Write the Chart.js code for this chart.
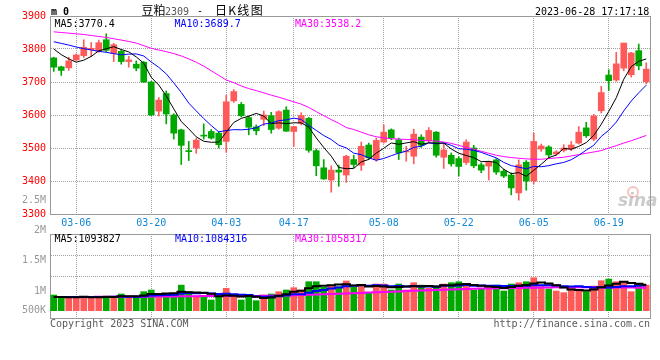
<!DOCTYPE html>
<html><head><meta charset="utf-8">
<script src="https://cdn.jsdelivr.net/npm/chart.js@4.4.0/dist/chart.umd.min.js"></script>
<style>
html,body{margin:0;padding:0;background:#fff;}
#wrap{position:relative;width:660px;height:360px;overflow:hidden;background:#fff;}
canvas{position:absolute;}
.t{position:absolute;white-space:pre;font-family:'DejaVu Sans Mono',monospace;font-size:10px;line-height:10px;color:#000;}
.cjk{position:absolute;white-space:pre;font-family:'Noto Sans CJK SC',sans-serif;font-size:12px;line-height:12px;color:#000;}
</style></head><body>
<div id="wrap">
<canvas id="cMain" width="660" height="232" style="left:0;top:0;"></canvas>
<canvas id="cVol" width="660" height="90" style="left:0;top:232px;"></canvas>
<canvas id="cVolAxis" width="60" height="140" style="left:0;top:190px;"></canvas>

<div class="t" style="left:51px;top:7px;font-weight:bold;">m 0</div>
<div class="cjk" style="left:141.5px;top:4px;">豆粕</div>
<div class="t" style="left:165px;top:6.5px;color:#555;">2309</div>
<div class="t" style="left:197px;top:6px;">-</div>
<div class="cjk" style="left:215px;top:4px;letter-spacing:1.3px;">日K线图</div>
<div class="t" style="left:535px;top:7px;">2023-06-28 17:17:18</div>

<div class="t" style="left:54.5px;top:19.2px;color:#000;">MA5:3770.4</div>
<div class="t" style="left:174.5px;top:19.2px;color:#0000ff;">MA10:3689.7</div>
<div class="t" style="left:295px;top:19.2px;color:#ff00ff;">MA30:3538.2</div>

<div class="t" style="left:54.5px;top:233.5px;color:#000;">MA5:1093827</div>
<div class="t" style="left:175px;top:233.5px;color:#0000ff;">MA10:1084316</div>
<div class="t" style="left:295px;top:233.5px;color:#ff00ff;">MA30:1058317</div>

<div class="t" style="left:50px;top:319.2px;color:#5a5a5a;">Copyright 2023 SINA.COM</div>
<div class="t" style="left:493.5px;top:319.2px;color:#5a5a5a;">http://finance.sina.com.cn</div>

<div style="position:absolute;left:627px;top:186px;width:8px;height:8px;border:2px solid rgba(240,120,120,0.45);border-radius:50%;"></div>
<div style="position:absolute;left:618px;top:192px;font-family:'DejaVu Sans',sans-serif;font-weight:bold;font-style:italic;font-size:17px;line-height:17px;color:rgba(160,160,160,0.55);">sina</div>
</div>

<script>
// ---------- data ----------
const dates = [
 '03-01','03-02','03-03','03-06','03-07','03-08','03-09','03-10','03-13','03-14',
 '03-15','03-16','03-17','03-20','03-21','03-22','03-23','03-24','03-27','03-28',
 '03-29','03-30','03-31','04-03','04-04','04-06','04-07','04-10','04-11','04-12',
 '04-13','04-14','04-17','04-18','04-19','04-20','04-21','04-24','04-25','04-26',
 '04-27','04-28','05-04','05-05','05-08','05-09','05-10','05-11','05-12','05-15',
 '05-16','05-17','05-18','05-19','05-22','05-23','05-24','05-25','05-26','05-29',
 '05-30','05-31','06-01','06-02','06-05','06-06','06-07','06-08','06-09','06-12',
 '06-13','06-14','06-15','06-16','06-19','06-20','06-21','06-26','06-27','06-28'];
const tickDates = ['03-06','03-20','04-03','04-17','05-08','05-22','06-05','06-19'];

const opens = [
 3773,3746,3743,3767,3780,3798,3793,3828,3787,3793,
 3762,3754,3760,3700,3612,3665,3600,3555,3492,3500,
 3539,3550,3545,3520,3643,3632,3592,3564,3587,3598,
 3560,3615,3550,3575,3590,3492,3440,3403,3433,3418,
 3465,3448,3509,3465,3518,3555,3525,3488,3475,3533,
 3522,3548,3472,3478,3468,3456,3500,3449,3445,3464,
 3430,3418,3364,3457,3400,3497,3503,3482,3493,3497,
 3515,3561,3527,3613,3721,3706,3742,3722,3795,3701];
const highs = [
 3775,3748,3775,3785,3828,3820,3827,3846,3817,3798,
 3778,3764,3762,3702,3653,3673,3604,3557,3520,3530,
 3573,3556,3550,3660,3677,3638,3597,3570,3612,3608,
 3613,3625,3566,3607,3593,3497,3465,3446,3448,3478,
 3478,3518,3515,3530,3570,3558,3530,3505,3557,3540,
 3562,3550,3514,3485,3474,3525,3508,3455,3460,3468,
 3436,3425,3464,3462,3545,3512,3507,3492,3510,3520,
 3565,3578,3602,3687,3737,3790,3818,3790,3815,3758];
const lows = [
 3732,3720,3735,3764,3774,3777,3790,3792,3762,3754,
 3745,3734,3698,3598,3597,3573,3527,3450,3462,3484,
 3527,3527,3500,3487,3638,3594,3540,3540,3568,3545,
 3557,3550,3505,3570,3487,3416,3405,3366,3384,3396,
 3440,3432,3465,3460,3515,3525,3465,3460,3452,3502,
 3518,3472,3438,3445,3415,3450,3440,3425,3403,3420,
 3410,3358,3342,3372,3391,3490,3470,3478,3488,3492,
 3512,3532,3522,3606,3674,3702,3734,3715,3737,3694];
const closes = [
 3745,3735,3764,3782,3805,3802,3819,3796,3813,3762,
 3767,3742,3700,3600,3645,3603,3545,3508,3489,3524,
 3536,3530,3510,3640,3671,3598,3563,3552,3600,3556,
 3610,3551,3565,3598,3493,3446,3406,3433,3427,3475,
 3450,3505,3470,3523,3548,3530,3485,3491,3542,3508,
 3553,3478,3494,3452,3444,3518,3446,3433,3457,3427,
 3415,3379,3449,3400,3520,3506,3479,3488,3500,3509,
 3548,3537,3597,3668,3704,3755,3818,3788,3749,3739];

const ma5 = [
 3800,3783,3770,3760,3766.2,3777.6,3794.4,3800.8,3807.0,3798.4,
 3791.4,3776.0,3756.8,3714.2,3690.8,3658.0,3618.6,3580.2,3558.0,3533.8,
 3520.4,3517.4,3517.8,3548.0,3577.4,3589.8,3596.4,3604.8,3596.8,3573.8,
 3576.2,3573.8,3576.4,3576.0,3563.4,3530.6,3501.6,3475.2,3441.0,3437.4,
 3438.2,3458.0,3465.4,3484.6,3499.2,3515.2,3511.2,3515.4,3519.2,3511.2,
 3515.8,3514.4,3515.0,3497.0,3484.2,3477.2,3470.8,3458.6,3459.6,3456.2,
 3435.6,3422.2,3425.4,3414.0,3432.6,3450.8,3470.8,3478.6,3498.6,3496.4,
 3504.8,3516.4,3538.2,3571.8,3610.8,3652.2,3708.4,3746.6,3762.8,3769.8];
const ma10 = [
 3822,3817,3812,3806,3801,3797,3793,3790,3786,3782.3,
 3784.5,3785.2,3778.8,3760.6,3744.6,3724.7,3697.3,3668.5,3636.1,3612.3,
 3589.2,3568.0,3549.0,3553.0,3555.6,3555.1,3556.9,3561.3,3572.4,3575.6,
 3583.0,3585.1,3590.6,3586.4,3568.6,3553.4,3537.7,3525.8,3508.5,3500.4,
 3484.4,3479.8,3470.3,3462.8,3468.3,3476.7,3484.6,3490.4,3501.9,3505.2,
 3515.5,3512.8,3515.2,3508.1,3497.7,3496.5,3492.6,3486.8,3478.3,3470.2,
 3456.4,3446.5,3442.0,3436.8,3444.4,3443.2,3446.5,3452.0,3456.3,3464.5,
 3477.8,3493.6,3508.4,3535.2,3553.6,3578.5,3612.4,3642.4,3667.3,3690.3];
const ma30 = [
 3852,3850,3848,3846,3844,3841,3838,3835,3831,3827,
 3823,3818,3810,3802,3797,3792,3786,3779,3770,3760,
 3748,3734,3720,3706,3698,3688,3680,3674,3667,3660,
 3654,3647,3640,3633,3623,3610,3598,3586,3575,3562,
 3556,3548,3540,3534,3531,3528,3527,3526,3525,3523,
 3522,3521,3518,3514,3508,3502,3496,3490,3484,3478,
 3474,3471,3469,3467,3466,3466,3468,3470,3472,3476,
 3480,3484,3488,3492,3500,3507,3515,3522,3530,3538];

const volumes = [
 937000,900000,900000,900000,900000,900000,900000,921000,900000,954000,
 900000,910000,992000,1020000,954000,937000,937000,1100000,992000,921000,
 921000,855000,900000,1048000,900000,855000,900000,844000,937000,954000,
 992000,1020000,1058000,1020000,1156000,1156000,1064000,1100000,1074000,1168000,
 1064000,1100000,976000,1118000,1118000,1020000,1118000,1020000,1140000,1100000,
 1048000,1085000,1118000,1140000,1156000,1085000,1020000,1048000,1085000,1100000,
 1003000,1118000,1140000,1156000,1222000,1074000,1036000,1003000,976000,1060000,
 1020000,992000,1085000,1173000,1200000,1156000,1156000,992000,1118000,1100000];
const volMa5 = [
 905000,903000,900000,900000,907400,900000,900000,904200,904200,915000,
 915000,917000,931200,955200,955200,962600,968000,989600,984000,977400,
 974200,957800,917800,929000,924800,911600,920600,909400,887200,898000,
 925400,949400,992200,1008800,1049200,1082000,1090800,1099200,1110000,1112400,
 1094000,1101200,1076400,1085200,1075200,1066400,1070000,1078800,1083200,1079600,
 1085200,1078600,1098200,1098200,1109400,1116800,1103800,1089800,1078800,1067600,
 1051200,1070800,1089200,1103400,1127800,1142000,1125600,1098200,1062200,1029800,
 1019000,1010200,1026600,1066000,1094000,1121200,1154000,1135400,1124400,1104400];
const volMa10 = [
 905000,904000,903000,903000,903000,904000,905000,906000,908000,911200,
 907500,908500,917700,929700,935100,938800,942500,960400,969600,966300,
 968400,962900,953700,956500,951100,942900,939200,913600,908100,911400,
 918500,935000,950800,948000,973600,1003700,1020100,1045700,1059400,1080800,
 1088000,1096000,1087800,1097600,1093800,1080200,1085600,1077600,1084200,1077400,
 1075800,1074300,1088500,1090700,1094500,1101000,1091200,1094000,1088500,1088500,
 1084000,1087300,1089500,1091100,1097700,1096600,1098200,1093700,1082800,1078800,
 1080500,1067900,1062400,1064100,1061900,1070100,1082100,1081000,1095200,1099200];
const volMa30 = [
 905000,905000,905000,906000,906000,906000,907000,907000,908000,908000,
 909000,909000,910000,911000,912000,913000,914000,916000,917000,918000,
 919000,920000,920000,921000,921000,922000,922000,923000,924000,926000,
 928000,930000,933000,936000,940000,944000,948000,952000,957000,962000,
 967000,972000,977000,982000,987000,992000,997000,1002000,1007000,1012000,
 1016000,1020000,1024000,1028000,1032000,1036000,1040000,1043000,1046000,1048000,
 1050000,1052000,1054000,1056000,1058000,1060000,1062000,1063000,1064000,1064000,
 1064000,1064000,1063000,1062000,1061000,1060000,1060000,1059000,1058000,1058000];

const priceMin = 3300, priceMax = 3900, priceStep = 100;
const volTickValues = [2500000, 2000000, 1500000, 1000000, 680000];
const volTickLabels = ['2.5M', '2M', '1.5M', '1M', '500K'];

// ---------- scale settings (layout, not data) ----------
const volAxisMin = 559000, volAxisMax = 1941000, volBase = 680000;

const RED = '#ff5a5a', GREEN = '#00a800';
const GRID = '#a0a0a0', BORDER = '#999999';
const FONT = {family: "'DejaVu Sans Mono', monospace", size: 10};
const candleColors = closes.map((c, i) => c >= opens[i] ? RED : GREEN);
const tickIdx = tickDates.map(d => dates.indexOf(d));
const xMin = -0.5, xMax = dates.length - 0.5;
const pts = arr => arr.map((v, i) => ({x: i, y: v}));

function dateAxis(showLabels, height) {
  return {
    type: 'linear', position: 'bottom', min: xMin, max: xMax,
    offset: false,
    afterBuildTicks: s => { s.ticks = tickIdx.map(v => ({value: v})); },
    ticks: {display: showLabels, autoSkip: false, maxRotation: 0, color: '#1088d8', font: FONT, padding: 3,
            callback: v => dates[v]},
    grid: {color: GRID, drawTicks: false, offset: false},
    border: {display: true, color: BORDER, dash: [1, 1]},
    afterFit: s => { s.height = height; }
  };
}
function edgeAxis(position, min, max) {
  const horiz = position === 'top';
  return {
    type: 'linear', position, min, max, offset: false,
    ticks: {display: false}, grid: {display: false, drawTicks: false, offset: false},
    border: {display: true, color: BORDER},
    afterFit: s => { if (horiz) s.height = 0; else s.width = 0; }
  };
}
function lineDs(data, color, width, stepped) {
  return {type: 'line', data: pts(data), borderColor: color, borderWidth: width, pointRadius: 0,
          tension: 0, stepped: stepped || false, order: 0, xAxisID: 'x', yAxisID: 'y'};
}
const common = {responsive: false, animation: false, events: [],
  plugins: {legend: {display: false}, tooltip: {enabled: false}}};

// ---------- main candlestick chart ----------
new Chart(document.getElementById('cMain'), {
  type: 'bar',
  data: {datasets: [
    lineDs(ma5, '#000000', 1),
    lineDs(ma10, '#0000ff', 1),
    lineDs(ma30, '#ff00ff', 1),
    {type: 'bar', data: opens.map((o, i) => ({x: i, y: [o, closes[i]]})), backgroundColor: candleColors,
     barThickness: 6, minBarLength: 1, grouped: false, order: 1, xAxisID: 'x', yAxisID: 'y'},
    {type: 'bar', data: lows.map((l, i) => ({x: i, y: [l, highs[i]]})), backgroundColor: candleColors,
     barThickness: 1, grouped: false, order: 2, xAxisID: 'x', yAxisID: 'y'}
  ]},
  options: Object.assign({}, common, {
    layout: {padding: {top: 16, right: 10, left: 0, bottom: 0}},
    scales: {
      x: dateAxis(true, 18),
      xTop: edgeAxis('top', xMin, xMax),
      y: {type: 'linear', position: 'left', min: priceMin, max: priceMax,
          ticks: {stepSize: priceStep, color: '#ff0000', font: FONT, padding: 4, callback: v => String(v)},
          grid: {color: GRID, drawTicks: false},
          border: {display: true, color: BORDER, dash: [1, 1]},
          afterFit: s => { s.width = 50; }},
      yRight: edgeAxis('right', priceMin, priceMax)
    }
  })
});

// ---------- volume chart ----------
new Chart(document.getElementById('cVol'), {
  type: 'bar',
  data: {datasets: [
    lineDs(volMa5, '#000000', 2, 'middle'),
    lineDs(volMa10, '#0000ff', 2, 'middle'),
    lineDs(volMa30, '#ff00ff', 2, 'middle'),
    {type: 'bar', data: pts(volumes), backgroundColor: candleColors, barThickness: 6,
     base: volBase, grouped: false, order: 1, xAxisID: 'x', yAxisID: 'y'}
  ]},
  options: Object.assign({}, common, {
    layout: {padding: {top: 2, right: 10, left: 0, bottom: 4}},
    scales: {
      x: dateAxis(false, 0),
      xTop: edgeAxis('top', xMin, xMax),
      y: {type: 'linear', position: 'left', min: volAxisMin, max: volAxisMax,
          afterBuildTicks: s => { s.ticks = [0, 1, 2, 3, 4].map(k => ({value: volAxisMin + k * (volAxisMax - volAxisMin) / 4})); },
          ticks: {display: false},
          grid: {color: GRID, drawTicks: false},
          border: {display: true, color: BORDER, dash: [1, 1]},
          afterFit: s => { s.width = 50; }},
      yRight: edgeAxis('right', volAxisMin, volAxisMax)
    }
  })
});

// ---------- volume axis labels ----------
new Chart(document.getElementById('cVolAxis'), {
  type: 'bar',
  data: {datasets: []},
  options: Object.assign({}, common, {
    layout: {padding: {top: 10, right: 0, left: 0, bottom: 12}},
    scales: {
      x: {type: 'linear', display: false, min: 0, max: 1},
      y: {type: 'linear', position: 'left', min: volAxisMin, max: volTickValues[0],
          afterBuildTicks: s => { s.ticks = volTickValues.map(v => ({value: v})); },
          ticks: {color: '#999999', font: FONT, padding: 4, autoSkip: false,
                  callback: v => volTickLabels[volTickValues.indexOf(v)]},
          grid: {display: false, drawTicks: false},
          border: {display: false},
          afterFit: s => { s.width = 50; }}
    }
  })
});
</script>
</body></html>
